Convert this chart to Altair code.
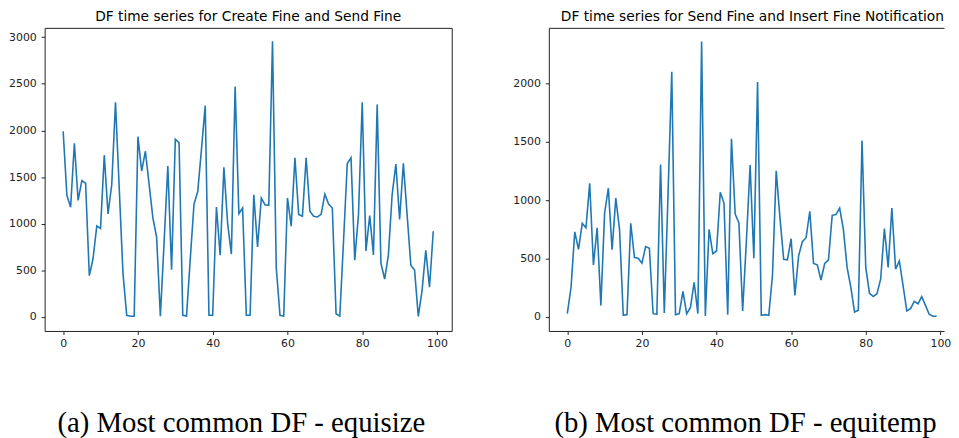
import altair as alt
import pandas as pd

x_index = list(range(100))

left_values = [
    1990, 1303, 1176, 1863, 1250, 1462, 1434, 443, 627, 977,
    949, 1735, 1105, 1420, 2302, 1380, 470, 18, 7, 7,
    1933, 1565, 1777, 1420, 1062, 857, 7, 800, 1618, 506,
    1905, 1870, 18, 10, 620, 1211, 1345, 1800, 2266, 18,
    18, 1179, 662, 1604, 1000, 673, 2472, 1108, 1168, 18,
    18, 1310, 751, 1275, 1204, 1197, 2957, 531, 18, 10,
    1275, 974, 1707, 1098, 1080, 1707, 1133, 1080, 1073, 1100,
    1317, 1211, 1168, 35, 10, 814, 1646, 1707, 609, 1100,
    2302, 708, 1087, 666, 2277, 577, 407, 666, 1310, 1640,
    1045, 1647, 1100, 556, 503, 7, 283, 715, 319, 920,
]

right_values = [
    28, 254, 729, 579, 802, 763, 1144, 446, 763, 99,
    890, 1102, 576, 1017, 749, 14, 20, 802, 508, 503,
    460, 602, 588, 28, 23, 1305, 34, 1050, 2099, 20,
    28, 220, 28, 79, 297, 28, 2359, 8, 749, 542,
    565, 1068, 975, 20, 1526, 881, 805, 51, 650, 1300,
    503, 2011, 14, 20, 14, 359, 1251, 848, 494, 489,
    670, 184, 523, 644, 678, 904, 458, 446, 316, 458,
    486, 870, 876, 932, 749, 424, 254, 42, 57, 1511,
    424, 203, 175, 198, 325, 757, 424, 932, 410, 480,
    268, 51, 71, 133, 113, 175, 99, 23, 6, 6,
]

left_title = "DF time series for Create Fine and Send Fine"
right_title = "DF time series for Send Fine and Insert Fine Notification"
left_caption = "(a) Most common DF - equisize"
right_caption = "(b) Most common DF - equitemp"

x_ticks = [0, 20, 40, 60, 80, 100]
left_y_ticks = [0, 500, 1000, 1500, 2000, 2500, 3000]
right_y_ticks = [0, 500, 1000, 1500, 2000]

LINE_COLOR = "#1f77b4"
AXIS_COLOR = "#222222"


def panel(values, title, caption, xdomain, ydomain, yticks, width, title_dx, right_spine):
    df = pd.DataFrame({"i": x_index, "v": values})
    base = alt.Chart(df)
    xscale = alt.Scale(domain=xdomain, nice=False, zero=False)
    yscale = alt.Scale(domain=ydomain, nice=False, zero=False)
    common = dict(
        grid=False,
        domainColor=AXIS_COLOR,
        domainWidth=1,
        tickColor=AXIS_COLOR,
        tickSize=3.5,
        labelFont="DejaVu Sans",
        labelFontSize=11,
        labelColor="#222222",
        format="d",
    )
    line = base.mark_line(color=LINE_COLOR, strokeWidth=1.6).encode(
        x=alt.X(
            "i:Q",
            scale=xscale,
            axis=alt.Axis(
                values=x_ticks,
                labelPadding=3,
                title=caption,
                titleFont="Liberation Serif",
                titleFontSize=29,
                titleFontWeight="normal",
                titleColor="#000000",
                titleAlign="center",
                titleBaseline="alphabetic",
                titleX=198,
                titleY=101,
                **common,
            ),
        ),
        y=alt.Y(
            "v:Q",
            scale=yscale,
            axis=alt.Axis(values=yticks, title=None, labelPadding=5, **common),
        ),
    )
    frame_y = (
        alt.Y(
            "v:Q",
            scale=yscale,
            axis=alt.Axis(orient="right", labels=False, ticks=False, grid=False,
                          title=None, domainColor=AXIS_COLOR, domainWidth=1),
        )
        if right_spine
        else alt.Y("v:Q", scale=yscale, axis=None)
    )
    frame = base.mark_line(opacity=0).encode(
        x=alt.X(
            "i:Q",
            scale=xscale,
            axis=alt.Axis(orient="top", labels=False, ticks=False, grid=False,
                          title=None, domainColor=AXIS_COLOR, domainWidth=1),
        ),
        y=frame_y,
    )
    return (
        alt.layer(line, frame)
        .resolve_axis(x="independent", y="independent")
        .properties(
            width=width,
            height=306,
            title=alt.TitleParams(
                text=title,
                font="DejaVu Sans",
                fontSize=13.9,
                fontWeight="normal",
                color="#000000",
                anchor="middle",
                offset=4,
                dx=title_dx,
            ),
        )
    )


left = panel(left_values, left_title, left_caption, [-4.95, 103.95], [-150, 3100],
             left_y_ticks, 411, 0, True)
right = panel(right_values, right_title, right_caption, [-4.95, 100.99], [-120, 2475],
              right_y_ticks, 399, 6, False)

chart = (
    alt.hconcat(left, right, spacing=61)
    .configure_view(stroke=None)
    .properties(padding={"left": 0, "top": 0, "right": 0, "bottom": 0})
)

chart.save("out.html", embed_options={"renderer": "svg", "actions": False})
